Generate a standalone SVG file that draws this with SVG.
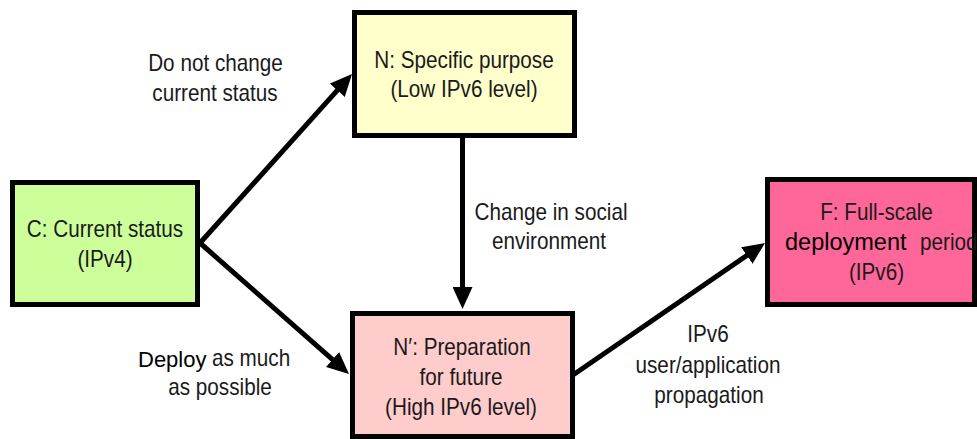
<svg xmlns="http://www.w3.org/2000/svg" width="977" height="439" viewBox="0 0 977 439">
  <style>
    .box { stroke: #000; stroke-width: 5; }
    /* condensed face: Liberation Sans squeezed horizontally via scale(0.9,1); x values are pre-divided by 0.9 */
    .t { font-family: "Liberation Sans", Arial, sans-serif; font-size: 23px; fill: #1a1a1a; text-anchor: middle; }
    .s { text-anchor: start; }
    .w { font-family: "Liberation Sans", Arial, sans-serif; font-size: 22px; fill: #000; }
    .edge { stroke: #000; stroke-width: 5; fill: none; marker-end: url(#head); }
  </style>
  <defs>
    <marker id="head" markerUnits="userSpaceOnUse" markerWidth="22" markerHeight="20" viewBox="0 0 22 20" refX="10" refY="10" orient="auto">
      <path d="M0,0 L22,10 L0,20 z" fill="#000"/>
    </marker>
  </defs>
  <rect width="977" height="439" fill="#fff"/>

  <g id="node-c">
    <rect class="box" x="12.5" y="182.5" width="185" height="122" fill="#CCFF99"/>
    <text class="t" transform="scale(0.9,1)" x="116.67" y="237.5">C: Current status</text>
    <text class="t" transform="scale(0.9,1)" x="116.67" y="267">(IPv4)</text>
  </g>

  <g id="node-n">
    <rect class="box" x="354.5" y="12.5" width="220" height="123" fill="#FFFFCC"/>
    <text class="t" transform="scale(0.9,1)" x="515.56" y="68">N: Specific purpose</text>
    <text class="t" transform="scale(0.9,1)" x="515.56" y="97">(Low IPv6 level)</text>
  </g>

  <g id="node-n-prime">
    <rect class="box" x="352.5" y="313.5" width="220" height="123" fill="#FFCCCC"/>
    <text class="t" transform="scale(0.9,1)" x="513.33" y="355">N′: Preparation</text>
    <text class="t" transform="scale(0.9,1)" x="512.22" y="385">for future</text>
    <text class="t" transform="scale(0.9,1)" x="512.22" y="415">(High IPv6 level)</text>
  </g>

  <g id="node-f">
    <rect class="box" x="767.5" y="179.5" width="207" height="125" fill="#FF6699"/>
    <text class="t" transform="scale(0.9,1)" x="973.89" y="220">F: Full-scale</text>
    <text class="w" x="785" y="250" style="font-size:23.5px">deployment</text>
    <text class="t s" transform="scale(0.9,1)" x="1022.2" y="250">period</text>
    <text class="t" transform="scale(0.9,1)" x="973.89" y="280">(IPv6)</text>
  </g>

  <g id="connectors">
    <line class="edge" x1="200" y1="243" x2="344" y2="82.9"/>
    <line class="edge" x1="200" y1="243" x2="340" y2="366.1"/>
    <line class="edge" x1="462.5" y1="138" x2="462.5" y2="297"/>
    <line class="edge" x1="573" y1="375" x2="755.1" y2="249.8"/>
  </g>

  <g id="labels">
    <text class="t" transform="scale(0.9,1)" x="239.44" y="71.5">Do not change</text>
    <text class="t" transform="scale(0.9,1)" x="238.89" y="101.5">current status</text>
    <text class="w" x="138" y="366.5">Deploy</text>
    <text class="t s" transform="scale(0.9,1)" x="235.5" y="366.5">as much</text>
    <text class="t" transform="scale(0.9,1)" x="244.44" y="395">as possible</text>
    <text class="t" transform="scale(0.9,1)" x="612.22" y="220">Change in social</text>
    <text class="t" transform="scale(0.9,1)" x="610" y="249">environment</text>
    <text class="t" transform="scale(0.9,1)" x="786.67" y="342.5">IPv6</text>
    <text class="t" transform="scale(0.9,1)" x="786.67" y="373">user/application</text>
    <text class="t" transform="scale(0.9,1)" x="787.78" y="403">propagation</text>
  </g>
</svg>
